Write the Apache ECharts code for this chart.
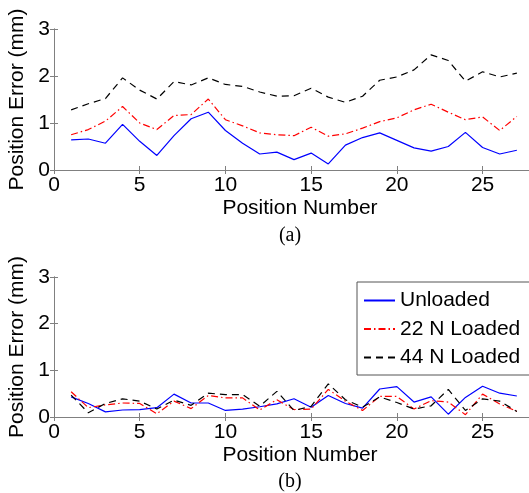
<!DOCTYPE html>
<html>
<head>
<meta charset="utf-8">
<script src="https://cdn.jsdelivr.net/npm/echarts@6/dist/echarts.min.js"></script>
<style>
  html, body { margin: 0; padding: 0; background: #fff; }
  #chart { width: 529px; height: 493px; }
</style>
</head>
<body>
<div id="chart"></div>
<script>
// position numbers 1..27
var positions = [1,2,3,4,5,6,7,8,9,10,11,12,13,14,15,16,17,18,19,20,21,22,23,24,25,26,27];

// (a) top panel
var unloadedA = [0.64,0.66,0.57,0.97,0.61,0.31,0.73,1.09,1.23,0.84,0.57,0.34,0.38,0.22,0.36,0.13,0.53,0.69,0.79,0.63,0.47,0.40,0.50,0.80,0.48,0.34,0.42];
var loaded22A = [0.75,0.86,1.04,1.35,1.00,0.86,1.16,1.18,1.51,1.07,0.94,0.79,0.75,0.73,0.91,0.72,0.77,0.89,1.03,1.11,1.28,1.40,1.23,1.07,1.13,0.84,1.14];
var loaded44A = [1.28,1.41,1.52,1.96,1.70,1.51,1.88,1.81,1.96,1.82,1.78,1.66,1.57,1.58,1.74,1.55,1.44,1.57,1.91,1.98,2.13,2.45,2.33,1.89,2.09,1.98,2.06];

// (b) bottom panel
var unloadedB = [0.43,0.29,0.11,0.15,0.16,0.20,0.49,0.30,0.30,0.14,0.17,0.22,0.28,0.39,0.21,0.46,0.29,0.19,0.60,0.65,0.32,0.43,0.06,0.42,0.66,0.51,0.45];
var loaded22B = [0.54,0.20,0.26,0.30,0.29,0.07,0.34,0.18,0.46,0.41,0.41,0.15,0.37,0.16,0.17,0.59,0.34,0.14,0.44,0.44,0.17,0.35,0.32,0.05,0.49,0.28,0.12];
var loaded44B = [0.47,0.09,0.29,0.39,0.34,0.17,0.36,0.25,0.51,0.48,0.48,0.23,0.55,0.14,0.23,0.71,0.37,0.21,0.43,0.31,0.17,0.24,0.59,0.14,0.39,0.34,0.12];

var xTicks = [0,5,10,15,20,25];
var yTicks = [0,1,2,3];
var names = ['Unloaded', '22 N Loaded', '44 N Loaded'];

function pairs(arr) {
  return positions.map(function (p, i) { return [p, arr[i]]; });
}

var chart = echarts.init(document.getElementById('chart'));
var font = 'Liberation Sans, Arial, sans-serif';
var axisGrey = '#808080';
var fs = 21;

function xAxisPair(gridIndex) {
  return [{
    type: 'value', gridIndex: gridIndex, min: xTicks[0], max: 28, interval: 5,
    name: 'Position Number', nameLocation: 'middle', nameGap: 28,
    nameTextStyle: { fontFamily: font, fontSize: fs, color: '#000', padding: [0, 0, 0, 12] },
    axisLine: { lineStyle: { color: axisGrey, width: 1 } },
    axisTick: { inside: true, length: 4, lineStyle: { color: axisGrey } },
    axisLabel: { fontFamily: font, fontSize: fs, color: '#000', margin: 5, showMaxLabel: false },
    splitLine: { show: false }
  }, {
    type: 'value', gridIndex: gridIndex, position: 'top', min: 0, max: 28, interval: 5,
    axisLine: { lineStyle: { color: axisGrey, width: 1 } },
    axisTick: { inside: true, length: 4, lineStyle: { color: axisGrey } },
    axisLabel: { show: false },
    splitLine: { show: false }
  }];
}

function yAxisPair(gridIndex) {
  return [{
    type: 'value', gridIndex: gridIndex, min: yTicks[0], max: yTicks[yTicks.length - 1], interval: 1,
    name: 'Position Error (mm)', nameLocation: 'middle', nameGap: 18,
    nameTextStyle: { fontFamily: font, fontSize: fs, color: '#000' },
    axisLine: { show: true, lineStyle: { color: axisGrey, width: 1 } },
    axisTick: { show: true, inside: true, length: 4, lineStyle: { color: axisGrey } },
    axisLabel: { fontFamily: font, fontSize: fs, color: '#000', margin: 4 },
    splitLine: { show: false }
  }, {
    type: 'value', gridIndex: gridIndex, position: 'right', min: 0, max: 3, interval: 1,
    axisLine: { show: true, lineStyle: { color: axisGrey, width: 1 } },
    axisTick: { show: true, inside: true, length: 4, lineStyle: { color: axisGrey } },
    axisLabel: { show: false },
    splitLine: { show: false }
  }];
}

function lineSeries(name, data, xi, yi, color, type) {
  return {
    name: name, type: 'line', xAxisIndex: xi, yAxisIndex: yi,
    data: pairs(data), symbol: 'none', animation: false,
    lineStyle: { color: color, width: 1.2, type: type },
    itemStyle: { color: color }
  };
}

var dashDot = [7, 3, 1.5, 3];
var dashed = [7, 5];

var option = {
  backgroundColor: '#fff',
  animation: false,
  grid: [
    { left: 54, top: 29, width: 480, height: 141, outerBoundsMode: 'none', containLabel: false },
    { left: 54, top: 277, width: 480, height: 140, outerBoundsMode: 'none', containLabel: false }
  ],
  xAxis: xAxisPair(0).concat(xAxisPair(1)),
  yAxis: yAxisPair(0).concat(yAxisPair(1)),
  legend: {
    data: names, orient: 'vertical', left: 357, top: 282,
    itemWidth: 31, itemHeight: 14, itemGap: 7.5, padding: [8, 12, 7, 6],
    borderColor: '#555', borderWidth: 1, backgroundColor: '#fff',
    itemStyle: { opacity: 0, borderWidth: 0 },
    textStyle: { fontFamily: font, fontSize: fs, color: '#000' },
    selectedMode: false
  },
  graphic: [
    { type: 'text', x: 290, y: 236, style: { text: '(a)', font: '20px "Liberation Serif", "Times New Roman", serif', fill: '#000', align: 'center', verticalAlign: 'middle' } },
    { type: 'text', x: 290, y: 482, style: { text: '(b)', font: '20px "Liberation Serif", "Times New Roman", serif', fill: '#000', align: 'center', verticalAlign: 'middle' } }
  ],
  series: [
    lineSeries(names[0], unloadedA, 0, 0, '#0000ff', 'solid'),
    lineSeries(names[1], loaded22A, 0, 0, '#ff0000', dashDot),
    lineSeries(names[2], loaded44A, 0, 0, '#000000', dashed),
    lineSeries(names[0], unloadedB, 2, 2, '#0000ff', 'solid'),
    lineSeries(names[1], loaded22B, 2, 2, '#ff0000', dashDot),
    lineSeries(names[2], loaded44B, 2, 2, '#000000', dashed)
  ]
};

chart.setOption(option);
</script>
</body>
</html>
